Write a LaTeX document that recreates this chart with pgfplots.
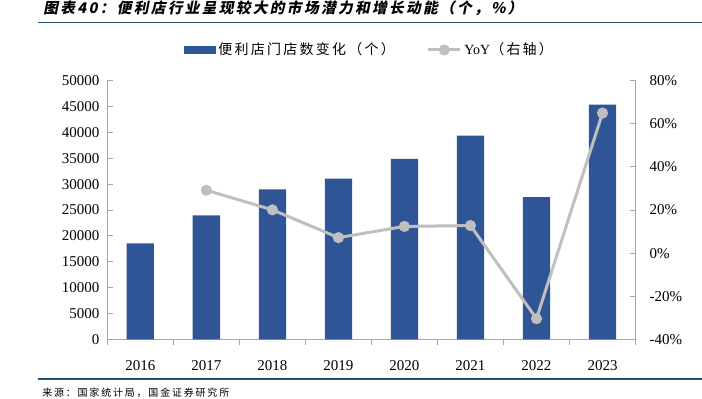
\documentclass[border=0pt]{standalone}
\usepackage{fontspec}
\usepackage{pgfplots}
\pgfplotsset{compat=1.18}
\setmainfont{Liberation Serif}
\newfontfamily\cjk{Noto Sans CJK SC}[LetterSpace=16]
\newfontfamily\cjktitle{Noto Sans CJK SC}[FakeSlant=0.2,LetterSpace=16]
\newfontfamily\cjksrc{Noto Sans CJK SC}[LetterSpace=18]
\definecolor{barblue}{RGB}{47,85,151}
\definecolor{linegray}{RGB}{191,191,191}
\definecolor{axisgray}{RGB}{166,166,166}
\definecolor{rulecol}{RGB}{31,78,121}
\pgfplotsset{
  yoyleg/.style={legend image code/.code={\draw[##1, mark=none] (0pt,0pt) -- (24pt,0pt); \draw[##1, only marks] plot coordinates {(12pt,0pt)};}},
  barleg/.style={legend image code/.code={\fill[barblue] (0pt,-2.6pt) rectangle (23.25pt,2.6pt);}}
}
\begin{document}
\begin{tikzpicture}
\path[use as bounding box] (0pt,0pt) rectangle (526.5pt,-299.25pt);
\draw[rulecol, line width=1.1pt] (28.5pt,-17pt) -- (526.5pt,-17pt);
\node[anchor=west, inner sep=0pt] at (32.25pt,-6pt) {\fontsize{11}{13}\cjktitle\bfseries 图表40：便利店行业呈现较大的市场潜力和增长动能（个，\%）};
\draw[rulecol, line width=1.1pt] (28.5pt,-284.25pt) -- (526.5pt,-284.25pt);
\node[anchor=west, inner sep=0pt] at (31.5pt,-294.75pt) {\fontsize{7.5}{9}\cjksrc 来源：国家统计局，国金证券研究所};
\begin{axis}[
  at={(80.5pt,-254.5pt)}, anchor=south west,
  scale only axis, width=396.15pt, height=193.95pt,
  xmin=-0.5, xmax=7.5, ymin=0, ymax=50000,
  axis x line*=bottom, axis y line*=left,
  every outer x axis line/.append style={-},
  every outer y axis line/.append style={-},
  axis line style={-, axisgray, line width=0.8pt},
  xtick={0,1,2,3,4,5,6,7},
  xticklabels={2016,2017,2018,2019,2020,2021,2022,2023},
  major x tick style={draw=none},
  minor xtick={-0.5,0.5,1.5,2.5,3.5,4.5,5.5,6.5,7.5},
  minor x tick style={draw=axisgray, line width=0.8pt},
  minor tick length=4pt,
  ytick={0,5000,10000,15000,20000,25000,30000,35000,40000,45000,50000},
  scaled y ticks=false,
  tick align=inside,
  major tick length=4.5pt,
  tick style={axisgray, line width=0.8pt},
  /pgf/number format/1000 sep={},
  /pgf/number format/assume math mode=true,
  ticklabel style={font=\fontsize{11.25}{13}\selectfont},
  xticklabel style={yshift=-8pt},
  yticklabel style={xshift=-2.5pt},
  ybar, bar width=0.413,
]
\addplot[fill=barblue, draw=none] coordinates {(0,18560) (1,23975) (2,29000) (3,31050) (4,34900) (5,39370) (6,27510) (7,45360)};
\end{axis}
\begin{axis}[
  at={(80.5pt,-254.5pt)}, anchor=south west,
  scale only axis, width=396.15pt, height=193.95pt,
  xmin=-0.5, xmax=7.5, ymin=-40, ymax=80,
  axis x line=none, axis y line*=right,
  every outer y axis line/.append style={-},
  axis line style={-, axisgray, line width=0.8pt},
  ytick={-40,-20,0,20,40,60,80},
  yticklabels={-40\%,-20\%,0\%,20\%,40\%,60\%,80\%},
  tick align=inside,
  major tick length=4.5pt,
  tick style={axisgray, line width=0.8pt},
  ticklabel style={font=\fontsize{11.25}{13}\selectfont},
  yticklabel style={xshift=7pt},
  legend columns=2,
  legend cell align=left,
  legend style={draw=none, fill=none, at={(axis description cs:0.145,1.119)}, anchor=west, inner sep=0pt,
    font=\fontsize{10.5}{12}\selectfont,
    /tikz/every even column/.append style={column sep=22pt}},
]
\addlegendimage{barleg}
\addlegendentry{{\cjk 便利店门店数变化（个）}}
\addplot[linegray, line width=2.25pt, mark=*, mark size=3pt, mark options={fill=linegray, draw=linegray}, yoyleg]
  coordinates {(1,29.2) (2,20.1) (3,7.2) (4,12.4) (5,12.8) (6,-30.4) (7,65.0)};
\addlegendentry{YoY{\cjk （右轴）}}
\end{axis}
\end{tikzpicture}
\end{document}
